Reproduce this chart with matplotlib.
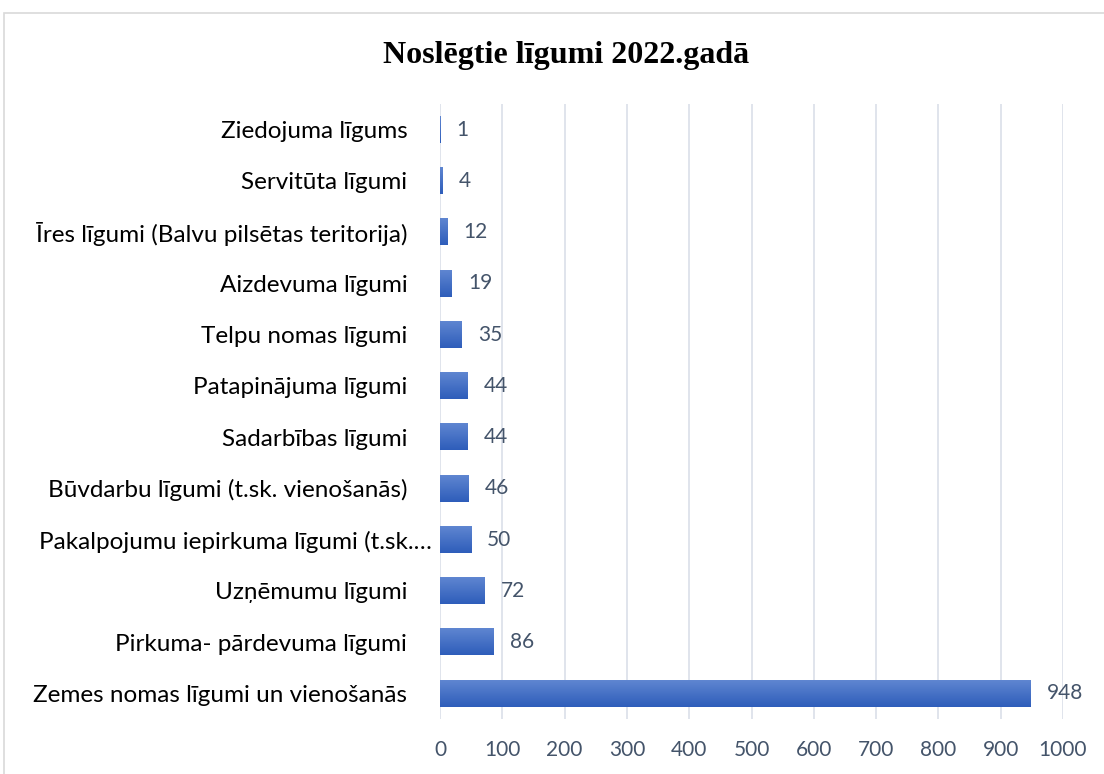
import matplotlib
matplotlib.use("Agg")
import matplotlib.pyplot as plt
import matplotlib.transforms as mtransforms
import numpy as np
from matplotlib.patches import Rectangle
from matplotlib.colors import LinearSegmentedColormap

categories = [
    "Zemes nomas līgumi un vienošanās",
    "Pirkuma- pārdevuma līgumi",
    "Uzņēmumu līgumi",
    "Pakalpojumu iepirkuma līgumi (t.sk.…",
    "Būvdarbu līgumi (t.sk. vienošanās)",
    "Sadarbības līgumi",
    "Patapinājuma līgumi",
    "Telpu nomas līgumi",
    "Aizdevuma līgumi",
    "Īres līgumi (Balvu pilsētas teritorija)",
    "Servitūta līgumi",
    "Ziedojuma līgums",
]
values = [948, 86, 72, 50, 46, 44, 44, 35, 19, 12, 4, 1]
xticks = [0, 100, 200, 300, 400, 500, 600, 700, 800, 900, 1000]
title = "Noslēgtie līgumi 2022.gadā"

plt.rcParams['font.family'] = ['Lato', 'DejaVu Sans']

fig = plt.figure(figsize=(11.04, 7.74), dpi=100)
fig.patches.append(Rectangle((4/1104, -0.01), 1.2, 1 - 13/774 + 0.01, transform=fig.transFigure,
                             fill=False, edgecolor="#D9D9D9", linewidth=1.2))

ax = fig.add_axes([440/1104, 1 - 719/774, (1063 - 440)/1104, (719 - 104)/774])
y = np.arange(len(categories))
bars = ax.barh(y, values, height=0.52, color="none", edgecolor="none", zorder=3)

grad = np.linspace(0, 1, 100).reshape(-1, 1)
cmap = LinearSegmentedColormap.from_list("g", ["#2E5DBA", "#5F86D1"])
for b in bars:
    x0, y0, w, h = b.get_x(), b.get_y(), b.get_width(), b.get_height()
    ax.imshow(grad, extent=(x0, x0 + w, y0, y0 + h), origin="lower", cmap=cmap,
              aspect="auto", zorder=3, interpolation="bilinear")

for b, v in zip(bars, values):
    ax.annotate(str(v), (b.get_width(), b.get_y() + b.get_height() / 2),
                xytext=(11.5, 0), textcoords="offset points", va="center", ha="left",
                fontsize=15, color="#44546A")

ax.set_xlim(0, 1000)
ax.set_ylim(-0.5, len(categories) - 0.5)
ax.set_xticks(xticks)
ax.set_xticklabels([str(t) for t in xticks], fontsize=15, color="#44546A")
ax.set_yticks(y)
ax.set_yticklabels(categories, fontsize=17.5, color="black")
ax.tick_params(axis="both", length=0)
ax.tick_params(axis="x", pad=15)
ax.tick_params(axis="y", pad=23.5)
ax.grid(axis="x", color="#DDE2EA", linewidth=1.3, zorder=0)
ax.set_axisbelow(True)
for s in ax.spines.values():
    s.set_visible(False)

# the truncated label sits closer to the axis in the original
for lbl in ax.get_yticklabels():
    if lbl.get_text().endswith("…"):
        lbl.set_transform(lbl.get_transform() +
                          mtransforms.ScaledTranslation(25/100, 0, fig.dpi_scale_trans))

fig.text(566/1104, 1 - 55/774, title, ha="center", va="center",
         fontsize=23, fontweight="bold", family=["Liberation Serif"])

fig.savefig("out.png", dpi=100)
